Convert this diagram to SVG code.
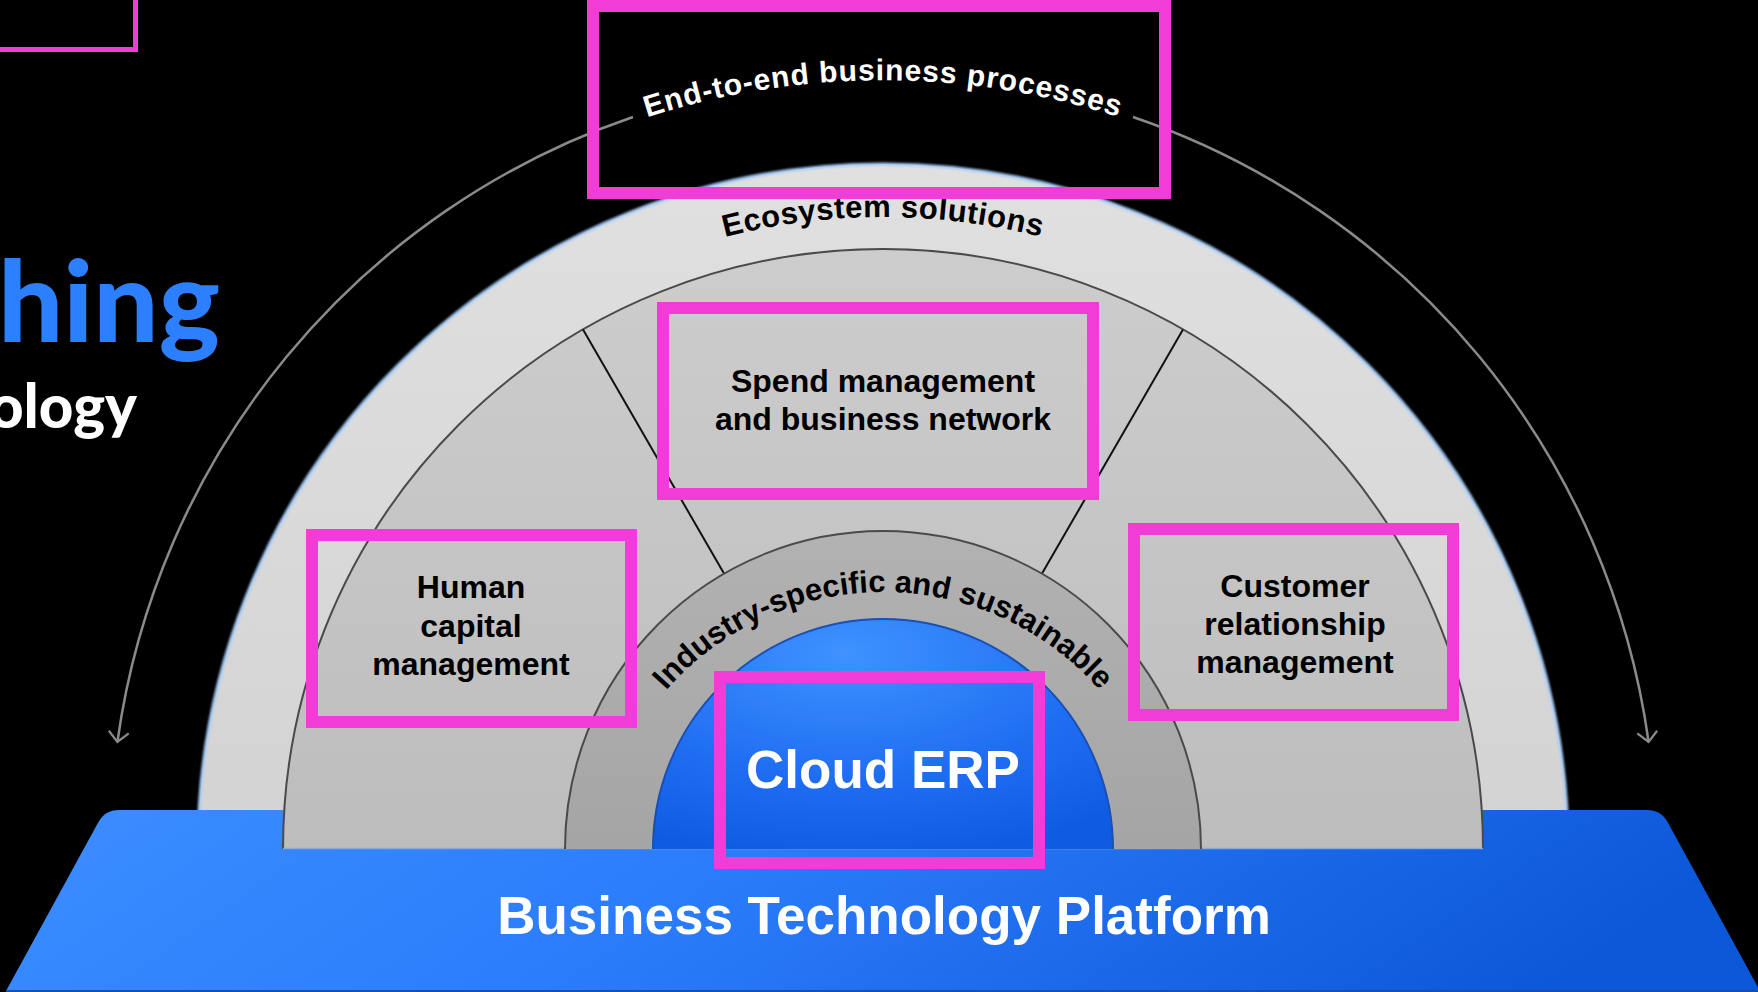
<svg xmlns="http://www.w3.org/2000/svg" width="1758" height="992" viewBox="0 0 1758 992">
  <style>
    .lbl { font-family: "Liberation Sans", Arial, sans-serif; font-weight: bold; text-anchor: middle; }
    .dark { fill: #000; font-size: 32px; }
    .white { fill: #fff; }
    .pink { fill: none; stroke: #f23cd8; stroke-width: 12; }
    .ringline { fill: none; stroke: #4a4a4a; stroke-width: 2; }
    .conn { fill: none; stroke: #8a8a8a; stroke-width: 2.5; marker-end: url(#chev); }
    .title { font-family: Lato, "Open Sans", sans-serif; font-weight: 900; text-anchor: end; }
  </style>
  <defs>
    <marker id="chev" markerUnits="userSpaceOnUse" viewBox="-16 -16 32 32" markerWidth="32" markerHeight="32" refX="0" refY="0" orient="auto">
      <path d="M -10 -10 L 0 0 L -10 10" fill="none" stroke="#8a8a8a" stroke-width="2.2"/>
    </marker>
    <linearGradient id="gOuter" x1="0" y1="0" x2="0" y2="1">
      <stop offset="0" stop-color="#e0e0e0"/>
      <stop offset="1" stop-color="#d3d3d3"/>
    </linearGradient>
    <linearGradient id="gRing2" x1="0" y1="0" x2="0" y2="1">
      <stop offset="0" stop-color="#cdcdcd"/>
      <stop offset="1" stop-color="#bdbdbd"/>
    </linearGradient>
    <linearGradient id="gRing3" x1="0" y1="0" x2="0" y2="1">
      <stop offset="0" stop-color="#b2b2b2"/>
      <stop offset="1" stop-color="#a5a5a5"/>
    </linearGradient>
    <radialGradient id="gBlue" cx="0.42" cy="0.15" r="0.9">
      <stop offset="0" stop-color="#3f92ff"/>
      <stop offset="0.6" stop-color="#1f6ef2"/>
      <stop offset="1" stop-color="#0f5ce3"/>
    </radialGradient>
    <linearGradient id="gPlat" x1="0" y1="0" x2="1" y2="0.15">
      <stop offset="0" stop-color="#3c8eff"/>
      <stop offset="0.45" stop-color="#2b7cfb"/>
      <stop offset="1" stop-color="#0c58d8"/>
    </linearGradient>
    <filter id="glow" x="-5%" y="-5%" width="110%" height="110%">
      <feGaussianBlur stdDeviation="1.2"/>
    </filter>
    <path id="pEnd" d="M 114 849 A 769 769 0 0 1 1652 849"/>
    <path id="pEco" d="M 251 849 A 632 632 0 0 1 1515 849"/>
    <path id="pInd" d="M 595 880 A 288 288 0 0 1 1171 880"/>
  </defs>

  <rect x="0" y="0" width="1758" height="992" fill="#000"/>

  <g id="title">
    <text class="title" x="220" y="342" font-size="112" fill="#2c80ff" textLength="222" lengthAdjust="spacingAndGlyphs">hing</text>
    <text class="title" x="137" y="428" font-size="60" fill="#ffffff">ology</text>
    <rect x="-10" y="-10" width="145.5" height="59.5" fill="none" stroke="#f23cd8" stroke-width="5"/>
  </g>

  <g id="outer-ring">
    <path d="M 198 849 A 685 685 0 0 1 1568 849 Z" fill="url(#gOuter)"/>
    <path d="M 198 849 A 685 685 0 0 1 1568 849" fill="none" stroke="#a6cbf6" stroke-width="3" filter="url(#glow)"/>
  </g>

  <g id="connectors">
    <path class="conn" d="M 633 117 A 773 773 0 0 0 117.4 742"/>
    <path class="conn" d="M 1133 117 A 773 773 0 0 1 1648.6 742"/>
  </g>

  <g id="platform">
    <path d="M 6 991 L 98.3 822.3 Q 105 810 119 810 L 1647 810 Q 1661 810 1667.7 822.3 L 1760 991 Z" fill="url(#gPlat)"/>
    <line x1="6" y1="991" x2="1758" y2="991" stroke="#1a4fa8" stroke-width="2"/>
  </g>

  <g id="ring2">
    <path d="M 283 849 A 600 600 0 0 1 1483 849 Z" fill="url(#gRing2)"/>
    <path class="ringline" d="M 283 849 A 600 600 0 0 1 1483 849"/>
    <line x1="283" y1="848.5" x2="1483" y2="848.5" stroke="#8fa9d6" stroke-width="1.5"/>
  </g>

  <g id="spokes">
    <line x1="724" y1="573.6" x2="583" y2="329.4" stroke="#111" stroke-width="2"/>
    <line x1="1042" y1="573.6" x2="1183" y2="329.4" stroke="#111" stroke-width="2"/>
  </g>

  <g id="ring3">
    <path d="M 565 849 A 318 318 0 0 1 1201 849 Z" fill="url(#gRing3)"/>
    <path class="ringline" d="M 565 849 A 318 318 0 0 1 1201 849"/>
  </g>

  <g id="core">
    <path d="M 653 849 A 230 230 0 0 1 1113 849 Z" fill="url(#gBlue)"/>
    <path d="M 653 849 A 230 230 0 0 1 1113 849" fill="none" stroke="#1b4fb3" stroke-width="2"/>
  </g>

  <g id="ring-labels">
    <text class="lbl" font-size="31" fill="#000" letter-spacing="0.5"><textPath href="#pEco" startOffset="50%">Ecosystem solutions</textPath></text>
    <text class="lbl" font-size="31" fill="#000" letter-spacing="0"><textPath href="#pInd" startOffset="50%">Industry-specific and sustainable</textPath></text>
  </g>

  <g id="node-end-to-end">
    <rect class="pink" x="593" y="6" width="572" height="187"/>
    <text class="lbl" font-size="30" fill="#fff" letter-spacing="0.9"><textPath href="#pEnd" startOffset="50%">End-to-end business processes</textPath></text>
  </g>

  <g id="node-spend">
    <rect class="pink" x="663" y="308" width="430" height="186"/>
    <text class="lbl dark" x="883" y="392">Spend management</text>
    <text class="lbl dark" x="883" y="430">and business network</text>
  </g>

  <g id="node-hcm">
    <rect class="pink" x="312" y="535" width="319" height="187"/>
    <text class="lbl dark" x="471" y="598">Human</text>
    <text class="lbl dark" x="471" y="637">capital</text>
    <text class="lbl dark" x="471" y="675">management</text>
  </g>

  <g id="node-crm">
    <rect class="pink" x="1134" y="529" width="319" height="186"/>
    <text class="lbl dark" x="1295" y="597">Customer</text>
    <text class="lbl dark" x="1295" y="635">relationship</text>
    <text class="lbl dark" x="1295" y="673">management</text>
  </g>

  <g id="node-erp">
    <rect class="pink" x="720" y="677" width="319" height="186"/>
    <text class="lbl white" x="883" y="788" font-size="53">Cloud ERP</text>
  </g>

  <g id="node-btp">
    <text class="lbl white" x="884" y="934" font-size="53">Business Technology Platform</text>
  </g>
</svg>
